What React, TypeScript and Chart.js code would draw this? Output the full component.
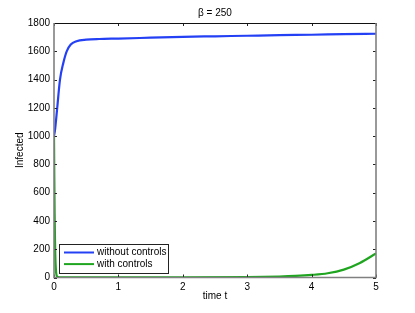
import React, { useEffect, useRef } from "react";
import { Chart, registerables } from "chart.js";

Chart.register(...registerables);

const chartTitle = "β = 250";
const xLabel = "time t";
const yLabel = "Infected";
const seriesNames = ["without controls", "with controls"];

const blueT = [0, 0.016, 0.05, 0.093, 0.145, 0.197, 0.26, 0.35, 0.5, 0.7, 1, 1.5, 2, 2.5, 3, 3.5, 4, 4.5, 5];
const blueY = [1000, 1045, 1200, 1400, 1518, 1600, 1648, 1671, 1682, 1687, 1690, 1696, 1702, 1706, 1710, 1714, 1717, 1721, 1724];

const greenT = [0, 0.005, 0.01, 0.015, 0.02, 0.03, 0.04, 0.06, 0.1, 1, 2, 3, 3.5, 3.75, 4, 4.25, 4.5, 4.75, 5];
const greenY = [1000, 700, 450, 280, 160, 50, 15, 3, 1, 0.5, 0.8, 3, 7, 11, 18, 30, 56, 103, 170];

const xTicks = [0, 1, 2, 3, 4, 5];
const yTicks = [0, 200, 400, 600, 800, 1000, 1200, 1400, 1600, 1800];

const FONT = "'Liberation Sans', Arial, Helvetica, sans-serif";

const boxPlugin = {
  id: "matlabBox",
  afterDatasetsDraw(chart: any) {
    const { ctx, chartArea: a, scales } = chart;
    const xs = scales.x;
    const ys = scales.y;
    ctx.save();
    ctx.strokeStyle = "#222";
    ctx.lineWidth = 1;
    const tl = 3;
    xTicks.forEach((v) => {
      const px = Math.round(xs.getPixelForValue(v)) + 0.5;
      ctx.beginPath();
      ctx.moveTo(px, a.bottom);
      ctx.lineTo(px, a.bottom - tl);
      ctx.moveTo(px, a.top);
      ctx.lineTo(px, a.top + tl);
      ctx.stroke();
    });
    yTicks.forEach((v) => {
      const py = Math.round(ys.getPixelForValue(v)) + 0.5;
      ctx.beginPath();
      ctx.moveTo(a.left, py);
      ctx.lineTo(a.left + tl, py);
      ctx.moveTo(a.right, py);
      ctx.lineTo(a.right - tl, py);
      ctx.stroke();
    });
    ctx.strokeStyle = "#111";
    ctx.lineWidth = 1;
    ctx.beginPath();
    ctx.moveTo(a.left, a.top + 0.5);
    ctx.lineTo(a.right, a.top + 0.5);
    ctx.stroke();
    ctx.strokeStyle = "#808080";
    ctx.lineWidth = 1.6;
    ctx.beginPath();
    ctx.moveTo(a.left, a.top);
    ctx.lineTo(a.left, a.bottom);
    ctx.lineTo(a.right, a.bottom);
    ctx.lineTo(a.right, a.top);
    ctx.stroke();

    ctx.fillStyle = "#000";
    ctx.font = `10px ${FONT}`;
    ctx.textAlign = "center";
    ctx.textBaseline = "middle";
    ctx.fillText(chartTitle, (a.left + a.right) / 2, 13);

    const lx = a.left + 5;
    const ly = a.bottom - 33.5;
    const lw = 109;
    const lh = 29;
    ctx.fillStyle = "#fff";
    ctx.fillRect(lx, ly, lw, lh);
    ctx.strokeStyle = "#222";
    ctx.lineWidth = 1;
    ctx.strokeRect(lx + 0.5, ly + 0.5, lw, lh);
    chart.data.datasets.forEach((ds: any, i: number) => {
      const yy = ly + 8.5 + i * 11.6;
      ctx.strokeStyle = ds.borderColor;
      ctx.lineWidth = 2;
      ctx.beginPath();
      ctx.moveTo(lx + 5, yy);
      ctx.lineTo(lx + 35, yy);
      ctx.stroke();
      ctx.fillStyle = "#000";
      ctx.textAlign = "left";
      ctx.font = `10px ${FONT}`;
      ctx.fillText(ds.label, lx + 38, yy);
    });
    ctx.restore();
  },
};

export default function App() {
  const ref = useRef<HTMLCanvasElement | null>(null);
  useEffect(() => {
    document.body.style.margin = "0";
    const c = ref.current;
    if (!c) return;
    const chart = new Chart(c, {
      type: "line",
      data: {
        datasets: [
          {
            label: seriesNames[0],
            data: blueT.map((t, i) => ({ x: t, y: blueY[i] })),
            borderColor: "#2440f5",
            borderWidth: 2.2,
            pointRadius: 0,
            cubicInterpolationMode: "monotone",
          },
          {
            label: seriesNames[1],
            data: greenT.map((t, i) => ({ x: t, y: greenY[i] })),
            borderColor: "#1fa51f",
            borderWidth: 2.2,
            pointRadius: 0,
            cubicInterpolationMode: "monotone",
          },
        ],
      },
      options: {
        responsive: false,
        animation: false,
        layout: { padding: { top: 23, right: 39, left: 0, bottom: 0 } },
        plugins: { legend: { display: false }, title: { display: false }, tooltip: { enabled: false } },
        scales: {
          x: {
            type: "linear",
            min: 0,
            max: 5,
            afterFit: (s: any) => { s.height = 35.5; },
            afterBuildTicks: (s: any) => { s.ticks = xTicks.map((v) => ({ value: v })); },
            grid: { display: false, drawTicks: false },
            border: { display: false },
            ticks: { padding: 4, color: "#000", font: { family: FONT, size: 10 }, callback: (v: any) => String(v) },
            title: { display: true, text: xLabel, color: "#000", font: { family: FONT, size: 10 }, padding: { top: 0, bottom: 11 } },
          },
          y: {
            type: "linear",
            min: 0,
            max: 1800,
            afterFit: (s: any) => { s.width = 54; },
            afterBuildTicks: (s: any) => { s.ticks = yTicks.map((v) => ({ value: v })); },
            grid: { display: false, drawTicks: false },
            border: { display: false },
            ticks: { padding: 4, color: "#000", font: { family: FONT, size: 10 }, callback: (v: any) => String(v) },
            title: { display: true, text: yLabel, color: "#000", font: { family: FONT, size: 10 }, padding: { top: 14, bottom: 0 } },
          },
        },
      },
      plugins: [boxPlugin],
    } as any);
    return () => chart.destroy();
  }, []);
  return <canvas ref={ref} width={415} height={313} style={{ display: "block" }} />;
}
